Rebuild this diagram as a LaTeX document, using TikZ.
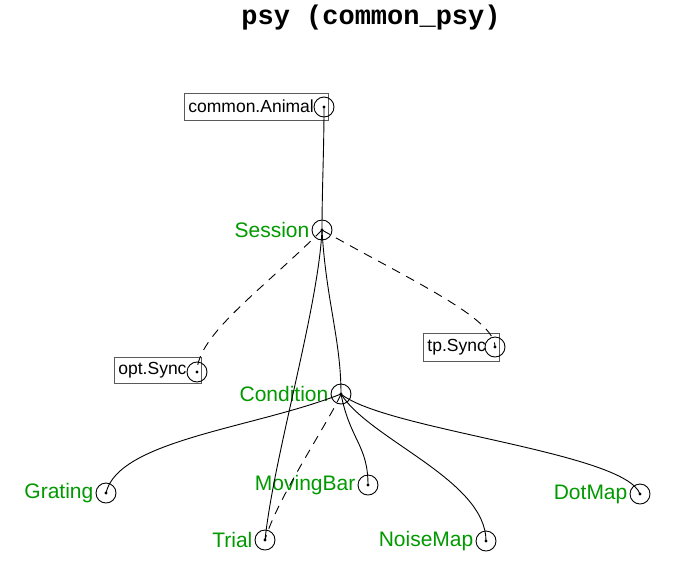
\documentclass[tikz,border=0pt]{standalone}
\usepackage{fontspec}
\setmainfont{Liberation Sans}
\newfontfamily\titlefont{Liberation Mono}
\definecolor{tiergreen}{RGB}{0,153,0}
\definecolor{boxgray}{RGB}{90,90,90}
\tikzset{
  ring/.style={circle, draw=black, line width=0.9pt, minimum size=20pt, inner sep=0pt},
  tierlabel/.style={text=tiergreen, anchor=east, inner sep=1pt, font=\fontsize{21}{24}\selectfont},
  partbox/.style={draw=boxgray, line width=0.8pt, anchor=west, inner xsep=4pt, inner ysep=0pt, align=left, font=\fontsize{17.5}{20}\selectfont},
  solidedge/.style={line width=0.9pt, black},
  dashedge/.style={line width=0.9pt, black, dash pattern=on 9pt off 7pt},
  dotmark/.style={fill=black}
}
\begin{document}
\begin{tikzpicture}[x=1pt, y=-1pt]
\useasboundingbox (0,0) rectangle (695,587);
\node[font=\titlefont\bfseries\fontsize{27}{30}\selectfont] (title) at (371,18) {psy (common\_psy)};

% boxed part tables
\node[partbox, text width=136pt, minimum height=27pt] (animalbox) at (184,106.5) {common.Animal};
\node[partbox, text width=79pt, minimum height=26pt] (optbox) at (114,370) {opt.Sync};
\node[partbox, text width=68pt, minimum height=28pt] (tpbox) at (423,347) {tp.Sync};

% rings
\node[ring] (animal) at (324,107) {};
\node[ring] (session) at (322,230) {};
\node[ring] (optsync) at (197,372) {};
\node[ring] (tpsync) at (495,347) {};
\node[ring] (condition) at (341,394) {};
\node[ring] (grating) at (106,493) {};
\node[ring] (movingbar) at (368,485) {};
\node[ring] (dotmap) at (640,494) {};
\node[ring] (trial) at (265,540) {};
\node[ring] (noisemap) at (486,541) {};

% labels
\node[tierlabel] (sessionlbl) at ([xshift=-1pt]session.west) {Session};
\node[tierlabel] (conditionlbl) at ([xshift=-1pt]condition.west) {Condition};
\node[tierlabel] (gratinglbl) at ([xshift=-1pt]grating.west) {Grating};
\node[tierlabel] (movingbarlbl) at ([xshift=-1pt]movingbar.west) {MovingBar};
\node[tierlabel] (dotmaplbl) at ([xshift=-1pt]dotmap.west) {DotMap};
\node[tierlabel] (triallbl) at ([xshift=-1pt]trial.west) {Trial};
\node[tierlabel] (noisemaplbl) at ([xshift=-1pt]noisemap.west) {NoiseMap};

% edges
\draw[solidedge] (animal.center) .. controls (324,150) and (322,190) .. (session.center);
\draw[dashedge] (session.center) .. controls (262,290) and (197,335) .. (optsync.center);
\draw[dashedge] (session.center) .. controls (410,280) and (495,318) .. (tpsync.center);
\draw[solidedge] (session.center) .. controls (326,300) and (341,340) .. (condition.center);
\draw[solidedge] (session.center) .. controls (318,310) and (274,455) .. (trial.center);
\draw[dashedge] (condition.center) .. controls (330,420) and (276,500) .. (trial.center);
\draw[solidedge] (condition.center) .. controls (255,428) and (118,440) .. (grating.center);
\draw[solidedge] (condition.center) .. controls (350,440) and (368,445) .. (movingbar.center);
\draw[solidedge] (condition.center) .. controls (370,440) and (486,480) .. (noisemap.center);
\draw[solidedge] (condition.center) .. controls (385,430) and (625,452) .. (dotmap.center);

% center dots
\foreach \n in {animal,session,optsync,tpsync,condition,grating,movingbar,dotmap,trial,noisemap}
  \fill[dotmark] (\n.center) circle (1.6pt);
\end{tikzpicture}
\end{document}
